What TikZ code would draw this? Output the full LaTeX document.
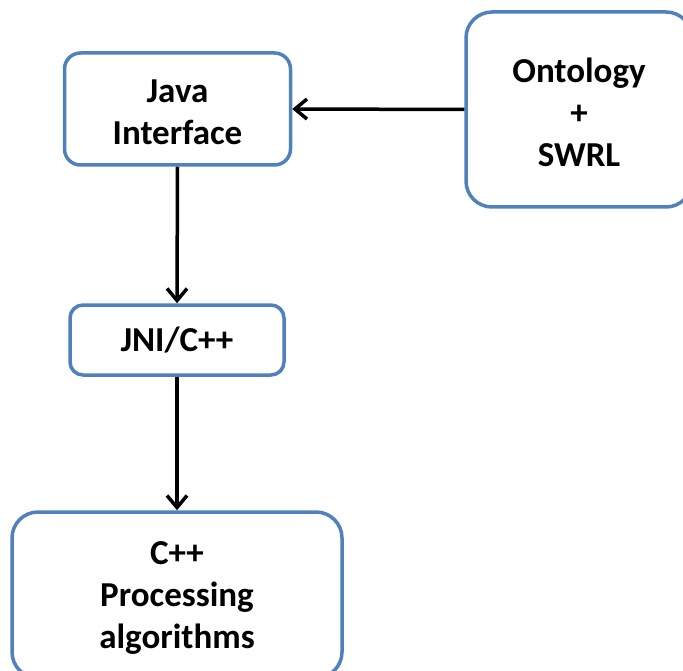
\documentclass[tikz,border=0pt]{standalone}
\usepackage{fontspec}
\setmainfont{Carlito}
\usetikzlibrary{arrows.meta}
\definecolor{boxblue}{RGB}{79,129,189}
\begin{document}
\begin{tikzpicture}[x=1pt,y=-1pt,
  box/.style={draw=boxblue, line width=3.5pt, fill=white, align=center, inner sep=0pt,
    font=\bfseries\fontsize{35}{42}\selectfont},
  conn/.style={line width=3.5pt, -{Straight Barb[length=12pt,width=20pt,line width=3.5pt]}}]
\useasboundingbox (0,0) rectangle (683,671);
\clip (0,0) rectangle (683,671);
\node[box, rounded corners=16pt, minimum width=226pt, minimum height=112pt] (java) at (177.5,109) {\rule{0pt}{0pt}\\[-12pt]Java\\Interface};
\node[box, rounded corners=26pt, minimum width=226pt, minimum height=195pt] (onto) at (579,109.5) {\rule{0pt}{0pt}\\[-12pt]Ontology\\+\\SWRL};
\node[box, rounded corners=13pt, minimum width=214pt, minimum height=70pt] (jni) at (177,340) {JNI/C++};
\node[box, rounded corners=26pt, minimum width=330pt, minimum height=166pt] (cpp) at (177,595) {\rule{0pt}{0pt}\\[-14pt]C++\\Processing\\algorithms};
\draw[conn] (onto.west) -- (java.east);
\draw[conn] (java.south) -- (jni.north);
\draw[conn] (jni.south) -- (cpp.north);
\end{tikzpicture}
\end{document}
